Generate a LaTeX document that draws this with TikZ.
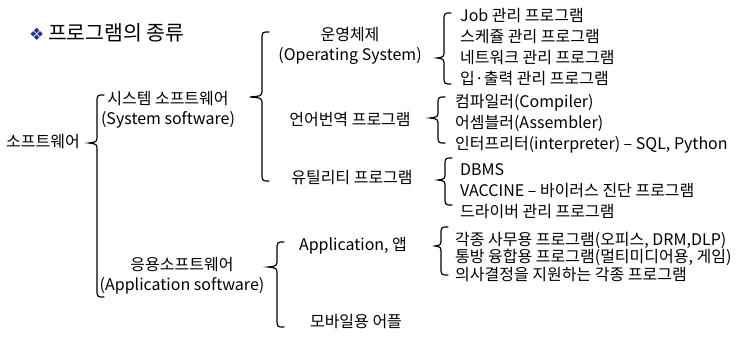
\documentclass[tikz,border=0pt]{standalone}
\usepackage{fontspec}
\setmainfont{Noto Sans CJK KR}
\newfontfamily\symfont{DejaVu Sans}
\usetikzlibrary{positioning}
\definecolor{titleblue}{RGB}{30,55,145}

% a brace: spine x, top y, tip x, tip y, bottom y
\newcommand{\curlybrace}[5]{%
\draw[curly] ({#1+7},#2) .. controls (#1,#2) .. (#1,{#2+8})
 -- (#1,{#4-8}) .. controls (#1,{#4-1}) .. (#3,#4)
 .. controls (#1,{#4+1}) .. (#1,{#4+8})
 -- (#1,{#5-8}) .. controls (#1,#5) .. ({#1+7},#5);}

\begin{document}
\begin{tikzpicture}[x=1pt,y=-1pt,
 item/.style={inner sep=0pt,align=center,font=\fontsize{16}{20}\selectfont},
 list/.style={inner sep=0pt,anchor=west,align=left,font=\fontsize{16}{21}\selectfont},
 curly/.style={line width=1.2pt,line cap=round}]
\useasboundingbox (0,0) rectangle (738,339);

\node[anchor=west,inner sep=0pt,font=\fontsize{20.5}{24}\selectfont] (title) at (29,33)
 {{\symfont\color{titleblue}\fontsize{17}{20}\selectfont ❖}\hspace{-1pt} 프로그램의 종류};

\node[item] (sw) at (43,142) {소프트웨어};
\node[item] (syssw) at (168,110) {시스템 소프트웨어\\(System software)};
\node[item] (appsw) at (182,276) {응용소프트웨어\\(Application software)};

\node[item] (os) at (350,46) {운영체제\\(Operating System)};
\node[item] (lang) at (350,120) {언어번역 프로그램};
\node[item] (util) at (352,178) {유틸리티 프로그램};
\node[item] (app) at (353,246) {Application, 앱};
\node[item] (mobile) at (356,322) {모바일용 어플};

\node[list] (oslist) at (460,47) {Job 관리 프로그램\\스케쥴 관리 프로그램\\네트워크 관리 프로그램\\입·출력 관리 프로그램};
\node[list] (langlist) at (455,124) {컴파일러(Compiler)\\어셈블러(Assembler)\\인터프리터(interpreter) – SQL, Python};
\node[list] (utillist) at (460,191) {DBMS\\VACCINE – 바이러스 진단 프로그램\\드라이버 관리 프로그램};
\node[list,font=\fontsize{16}{17.5}\selectfont] (applist) at (455,257) {각종 사무용 프로그램(오피스, DRM,DLP)\\통방 융합용 프로그램(멀티미디어용, 게임)\\의사결정을 지원하는 각종 프로그램};

\curlybrace{97}{95}{89}{143}{297}
\curlybrace{262}{32}{250}{97}{181}
\curlybrace{444}{13}{437}{58}{84}
\curlybrace{438}{97}{430}{118}{143}
\curlybrace{445}{158}{438}{180}{205}
\curlybrace{277}{242}{268}{267}{327}
\curlybrace{441}{227}{435}{246}{275}
\end{tikzpicture}
\end{document}
